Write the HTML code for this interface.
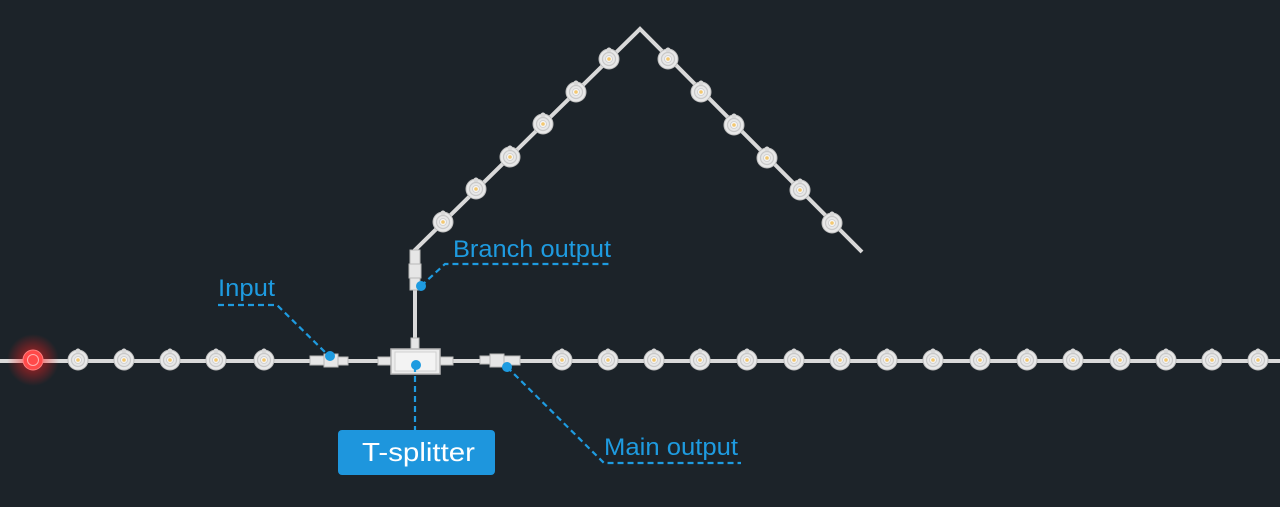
<!DOCTYPE html>
<html><head><meta charset="utf-8"><style>
html,body{margin:0;padding:0;background:#1c2329;}
svg{display:block}
text{font-family:"Liberation Sans",sans-serif;}
</style></head><body>
<svg width="1280" height="507" viewBox="0 0 1280 507" xmlns="http://www.w3.org/2000/svg">
<defs>
<g id="led">
<circle r="10" fill="#e8e8e8" stroke="#bdbdbd" stroke-width="1"/>
<circle cx="0" cy="-9" r="2.5" fill="#d8d8d8"/>
<circle r="6.5" fill="none" stroke="#c8c8c8" stroke-width="1.2"/>
<circle r="3.5" fill="#f5f5f5" stroke="#ccc" stroke-width="0.8"/>
<circle r="1.8" fill="#f3c870"/>
</g>
<radialGradient id="glow"><stop offset="0" stop-color="#ff2020" stop-opacity="0.7"/><stop offset="1" stop-color="#ff2020" stop-opacity="0"/></radialGradient>
</defs>
<rect width="1280" height="507" fill="#1c2329"/>
<g stroke="#d9d9d9" stroke-width="4" fill="none" stroke-linejoin="miter">
<line x1="0" y1="361" x2="1280" y2="361"/>
<polyline points="415,350 415,250 640,29 862,252"/>
</g>
<circle cx="33" cy="360" r="26" fill="url(#glow)"/>
<circle cx="33" cy="360" r="10" fill="#ff4a4a" stroke="#ff8080"/>
<circle cx="33" cy="360" r="5.5" fill="none" stroke="#ffb0b0"/>
<g>
<use href="#led" x="78" y="360"/><use href="#led" x="124" y="360"/><use href="#led" x="170" y="360"/><use href="#led" x="216" y="360"/><use href="#led" x="264" y="360"/>
<use href="#led" x="562" y="360"/><use href="#led" x="608" y="360"/><use href="#led" x="654" y="360"/><use href="#led" x="700" y="360"/><use href="#led" x="747" y="360"/><use href="#led" x="794" y="360"/><use href="#led" x="840" y="360"/><use href="#led" x="887" y="360"/><use href="#led" x="933" y="360"/><use href="#led" x="980" y="360"/><use href="#led" x="1027" y="360"/><use href="#led" x="1073" y="360"/><use href="#led" x="1120" y="360"/><use href="#led" x="1166" y="360"/><use href="#led" x="1212" y="360"/><use href="#led" x="1258" y="360"/>
<use href="#led" x="443" y="222"/><use href="#led" x="476" y="189"/><use href="#led" x="510" y="157"/><use href="#led" x="543" y="124"/><use href="#led" x="576" y="92"/><use href="#led" x="609" y="59"/>
<use href="#led" x="668" y="59"/><use href="#led" x="701" y="92"/><use href="#led" x="734" y="125"/><use href="#led" x="767" y="158"/><use href="#led" x="800" y="190"/><use href="#led" x="832" y="223"/>
</g>
<g fill="#e6e6e6" stroke="#b8b8b8" stroke-width="1">
<rect x="310" y="356" width="24" height="9"/><rect x="324" y="354" width="14" height="13"/><rect x="338" y="357" width="10" height="8"/>
<rect x="480" y="356" width="10" height="8"/><rect x="490" y="354" width="14" height="13"/><rect x="504" y="356" width="16" height="9"/>
<rect x="410" y="250" width="10" height="14"/><rect x="409" y="264" width="12" height="14"/><rect x="410" y="278" width="10" height="12"/>
<rect x="411" y="338" width="8" height="12"/>
<rect x="378" y="357" width="13" height="8"/><rect x="440" y="357" width="13" height="8"/>
<rect x="391" y="349" width="49" height="25" fill="#ececec" stroke="#b5b5b5" stroke-width="1.5"/>
<rect x="395" y="352" width="41" height="19" fill="#f3f3f3" stroke="#d0d0d0"/>
</g>
<g stroke="#1e9be0" stroke-width="2.2" stroke-dasharray="6,4" fill="none">
<polyline points="218,305 277,305 330,357"/>
<polyline points="421,286 445,264 612,264"/>
<polyline points="507,367 604,463 741,463"/>
<line x1="415" y1="366" x2="415" y2="430"/>
</g>
<g fill="#1e9be0">
<circle cx="330" cy="356" r="5"/><circle cx="421" cy="286" r="5"/><circle cx="507" cy="367" r="5"/><circle cx="416" cy="365" r="5"/>
</g>
<g fill="#1e9be0" font-size="24">
<text x="218" y="296" textLength="57" lengthAdjust="spacingAndGlyphs">Input</text>
<text x="453" y="257" textLength="158" lengthAdjust="spacingAndGlyphs">Branch output</text>
<text x="604" y="455" textLength="134" lengthAdjust="spacingAndGlyphs">Main output</text>
</g>
<rect x="338" y="430" width="157" height="45" rx="4" fill="#1e96dd"/>
<text x="362" y="461" font-size="26" fill="#ffffff" textLength="113" lengthAdjust="spacingAndGlyphs">T-splitter</text>
</svg>
</body></html>
